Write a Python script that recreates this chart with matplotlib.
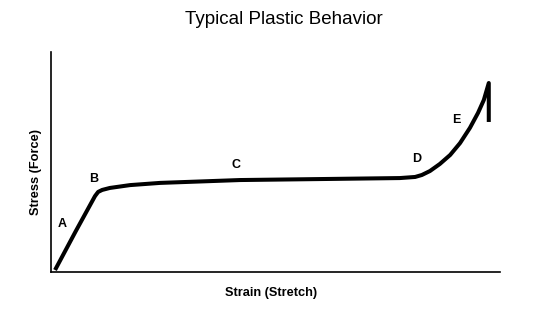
import matplotlib
matplotlib.use("Agg")
import matplotlib.pyplot as plt

# stress-strain curve, arbitrary units (0-100 on both axes)
strain = [0.9, 5.5, 9.8, 10.5, 11.4, 13.1, 17.6, 24.3, 42.1, 62.1, 77.7,
          81.1, 82.6, 84.4, 86.6, 88.9, 91.1, 93.3, 95.1, 96.4, 97.5, 97.5]
stress = [0.9, 18.5, 34.5, 36.4, 37.3, 38.2, 39.5, 40.5, 41.8, 42.3, 42.7,
          43.2, 44.1, 45.9, 49.1, 53.2, 58.6, 65.5, 72.3, 78.2, 85.9, 68.2]

# region labels
labels = ["A", "B", "C", "D", "E"]
label_x = [2.4, 9.4, 41.2, 81.5, 90.2]
label_y = [21.8, 42.3, 48.6, 51.4, 69.1]

fig = plt.figure(figsize=(5.51, 3.28), dpi=100)
ax = fig.add_axes([51 / 551, 1 - 272 / 328, 449 / 551, 220 / 328])

ax.plot(strain, stress, color="black", lw=2.9, solid_joinstyle="round", solid_capstyle="butt")

font = ["Liberation Sans", "DejaVu Sans"]
for lab, x, y in zip(labels, label_x, label_y):
    ax.text(x, y, lab, ha="center", va="center", fontsize=9, fontweight="bold", family=font)

ax.set_xlim(0, 100)
ax.set_ylim(0, 100)
ax.set_xticks([])
ax.set_yticks([])
for side in ["top", "right"]:
    ax.spines[side].set_visible(False)
for side in ["left", "bottom"]:
    ax.spines[side].set_linewidth(1.2)

fig.text(284 / 551, 1 - 20 / 328, "Typical Plastic Behavior", ha="center", va="center",
         fontsize=13.5, family=font)
fig.text(271 / 551, 1 - 293 / 328, "Strain (Stretch)", ha="center", va="center",
         fontsize=9.2, fontweight="bold", family=font)
fig.text(36 / 551, 1 - 172 / 328, "Stress (Force)", ha="center", va="center", rotation=90,
         fontsize=9.2, fontweight="bold", family=font)

fig.savefig("out.png", dpi=100)
